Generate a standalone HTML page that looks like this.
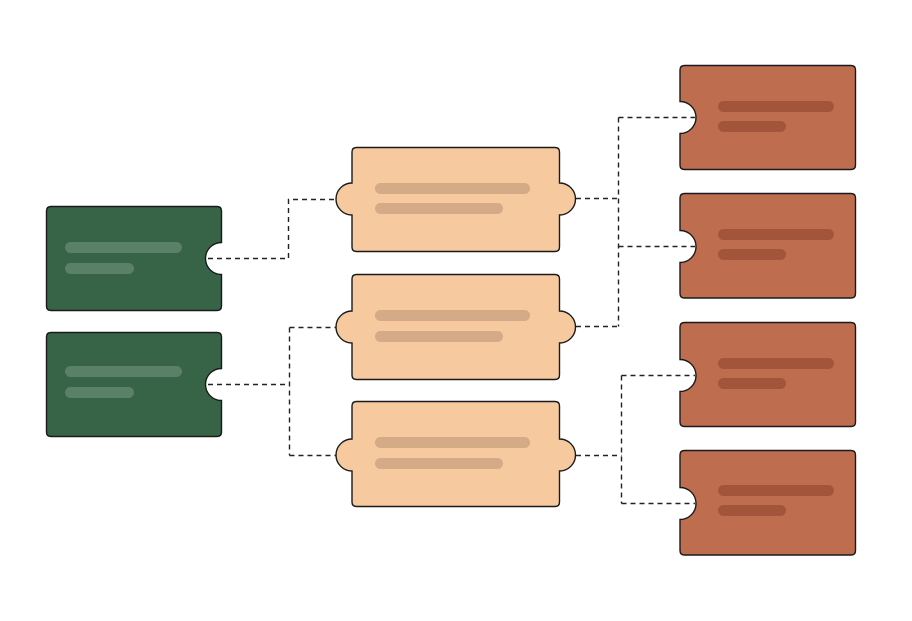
<!DOCTYPE html>
<html><head><style>html,body{margin:0;padding:0;background:#fff}svg{display:block}</style></head>
<body>
<svg width="912" height="621" viewBox="0 0 912 621" xmlns="http://www.w3.org/2000/svg">
<g fill="none" stroke="#222" stroke-width="1.4" stroke-dasharray="5,4">
<path d="M208 258.5 H288.5 V199.5 H337"/>
<path d="M208 384.5 H289.5"/>
<path d="M289.5 327.5 V455.5"/>
<path d="M289.5 327.5 H337 M289.5 455.5 H337"/>
<path d="M576 198.5 H618.5 M576 326.5 H618.5"/>
<path d="M618.5 117.5 V326.5"/>
<path d="M618.5 117.5 H695 M618.5 246.5 H695"/>
<path d="M576 455.5 H621.5"/>
<path d="M621.5 375.5 V503.5"/>
<path d="M621.5 375.5 H695 M621.5 503.5 H695"/>
</g>
<g stroke="#1a1a1a" stroke-width="1.4">
<!-- green -->
<path fill="#376446" d="M51 206.5 H217 Q221.5 206.5 221.5 211 V242.5 A16 16 0 0 0 221.5 274.5 V306 Q221.5 310.5 217 310.5 H51 Q46.5 310.5 46.5 306 V211 Q46.5 206.5 51 206.5Z"/>
<path fill="#376446" d="M51 332.5 H217 Q221.5 332.5 221.5 337 V368.5 A16 16 0 0 0 221.5 400.5 V432 Q221.5 436.5 217 436.5 H51 Q46.5 436.5 46.5 432 V337 Q46.5 332.5 51 332.5Z"/>
<!-- beige -->
<path fill="#f6c99e" d="M356.5 147.5 H555 Q559.5 147.5 559.5 152 V183 A16 16 0 0 1 559.5 215 V247 Q559.5 251.5 555 251.5 H356.5 Q352 251.5 352 247 V215 A16 16 0 0 1 352 183 V152 Q352 147.5 356.5 147.5Z"/>
<path fill="#f6c99e" d="M356.5 274.5 H555 Q559.5 274.5 559.5 279 V311 A16 16 0 0 1 559.5 343 V375 Q559.5 379.5 555 379.5 H356.5 Q352 379.5 352 375 V343 A16 16 0 0 1 352 311 V279 Q352 274.5 356.5 274.5Z"/>
<path fill="#f6c99e" d="M356.5 401.5 H555 Q559.5 401.5 559.5 406 V439 A16 16 0 0 1 559.5 471 V502 Q559.5 506.5 555 506.5 H356.5 Q352 506.5 352 502 V471 A16 16 0 0 1 352 439 V406 Q352 401.5 356.5 401.5Z"/>
<!-- red -->
<path fill="#bf6d4f" d="M684.5 65.5 H851 Q855.5 65.5 855.5 70 V165 Q855.5 169.5 851 169.5 H684.5 Q680 169.5 680 165 V133.5 A16 16 0 0 0 680 101.5 V70 Q680 65.5 684.5 65.5Z"/>
<path fill="#bf6d4f" d="M684.5 193.5 H851 Q855.5 193.5 855.5 198 V293.5 Q855.5 298 851 298 H684.5 Q680 298 680 293.5 V262.5 A16 16 0 0 0 680 230.5 V198 Q680 193.5 684.5 193.5Z"/>
<path fill="#bf6d4f" d="M684.5 322.5 H851 Q855.5 322.5 855.5 327 V422 Q855.5 426.5 851 426.5 H684.5 Q680 426.5 680 422 V391.5 A16 16 0 0 0 680 359.5 V327 Q680 322.5 684.5 322.5Z"/>
<path fill="#bf6d4f" d="M684.5 450.5 H851 Q855.5 450.5 855.5 455 V550.5 Q855.5 555 851 555 H684.5 Q680 555 680 550.5 V519.5 A16 16 0 0 0 680 487.5 V455 Q680 450.5 684.5 450.5Z"/>
</g>
<g fill="#5a8068">
<rect x="65" y="242" width="117" height="11" rx="5.5"/><rect x="65" y="263" width="69" height="11" rx="5.5"/>
<rect x="65" y="366" width="117" height="11" rx="5.5"/><rect x="65" y="387" width="69" height="11" rx="5.5"/>
</g>
<g fill="#d4aa87">
<rect x="375" y="183" width="155" height="11" rx="5.5"/><rect x="375" y="203" width="128" height="11" rx="5.5"/>
<rect x="375" y="310" width="155" height="11" rx="5.5"/><rect x="375" y="331" width="128" height="11" rx="5.5"/>
<rect x="375" y="437" width="155" height="11" rx="5.5"/><rect x="375" y="458" width="128" height="11" rx="5.5"/>
</g>
<g fill="#a3553b">
<rect x="718" y="101" width="116" height="11" rx="5.5"/><rect x="718" y="121" width="68" height="11" rx="5.5"/>
<rect x="718" y="229" width="116" height="11" rx="5.5"/><rect x="718" y="249" width="68" height="11" rx="5.5"/>
<rect x="718" y="358" width="116" height="11" rx="5.5"/><rect x="718" y="378" width="68" height="11" rx="5.5"/>
<rect x="718" y="485" width="116" height="11" rx="5.5"/><rect x="718" y="505" width="68" height="11" rx="5.5"/>
</g>
</svg>
</body></html>
